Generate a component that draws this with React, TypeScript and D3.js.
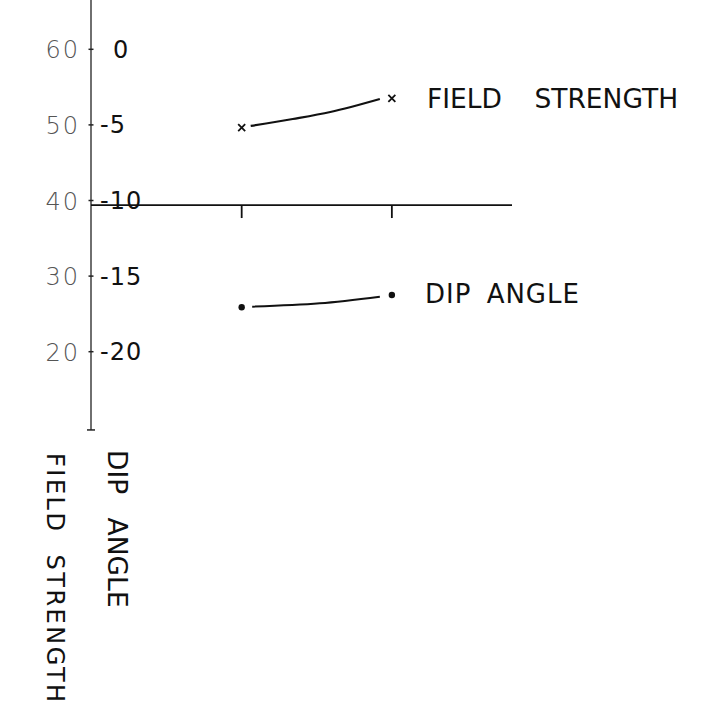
import React from 'react';
import * as d3 from 'd3';

// left scale (field strength) and right-of-axis scale (dip angle)
const fieldTicks = [60, 50, 40, 30, 20];
const dipTicks = [0, -5, -10, -15, -20];

// stations along the profile
const stations = [1, 2];

// plotted points
const fieldStrength = [49.63, 53.52];
const dipAngle = [-17.06, -16.25];

// hand-drawn connecting curves
const fieldCurveX = [1.06, 1.34, 1.59, 1.92];
const fieldCurve = [49.86, 50.78, 51.71, 53.43];
const dipCurveX = [1.07, 1.52, 1.92];
const dipCurve = [-17.02, -16.8, -16.36];

const profileLevel = 39.4; // field value where the station line sits
const axisBottom = 9.65;
const profileEnd = 2.8;

const W = 710, H = 712;
const font = '"DejaVu Sans", sans-serif';

export default function App() {
  const x = d3.scaleLinear().domain([0, profileEnd]).range([91.5, 512]);
  const yField = d3.scaleLinear().domain([20, 60]).range([351.7, 49.3]);
  const yDip = d3.scaleLinear().domain([-20, 0]).range([351.7, 49.3]);
  const axisX = x(0) - 0.5;

  const fieldLine = d3.line<number>()
    .x((d, i) => x(fieldCurveX[i]))
    .y(d => yField(d))
    .curve(d3.curveMonotoneX);
  const dipLine = d3.line<number>()
    .x((d, i) => x(dipCurveX[i]))
    .y(d => yDip(d))
    .curve(d3.curveMonotoneX);

  const baseY = yField(profileLevel);

  return (
    <svg width={W} height={H} style={{position: 'absolute', left: 0, top: 0, background: '#fff'}}>
      <rect width={W} height={H} fill="#fff" />
      {/* vertical axis */}
      <line x1={axisX} x2={axisX} y1={0} y2={yField(axisBottom)} stroke="#222" strokeWidth={1.3} />
      <line x1={axisX - 4} x2={axisX + 4} y1={yField(axisBottom)} y2={yField(axisBottom)} stroke="#222" strokeWidth={1.5} />
      {fieldTicks.map(t => (
        <g key={'f' + t}>
          <line x1={axisX - 2.5} x2={axisX + 2.5} y1={yField(t)} y2={yField(t)} stroke="#222" strokeWidth={1.5} />
          <text x={axisX - 11} y={yField(t) + 9} textAnchor="end" fontFamily={font} fontSize={24}
            fontWeight={200} fill="#555" letterSpacing={2}>{t}</text>
        </g>
      ))}
      {dipTicks.map(t => (
        <text key={'d' + t} x={t === 0 ? axisX + 22 : axisX + 9} y={yDip(t) + 8.5} fontFamily={font}
          fontSize={24} fill="#111" letterSpacing={1}>{t === 0 ? '0' : '-' + Math.abs(t)}</text>
      ))}

      {/* station line */}
      <line x1={axisX} x2={x(profileEnd)} y1={baseY} y2={baseY} stroke="#111" strokeWidth={1.8} />
      {stations.map(s => (
        <line key={'s' + s} x1={x(s)} x2={x(s)} y1={baseY} y2={baseY + 13} stroke="#111" strokeWidth={1.8} />
      ))}

      {/* field strength */}
      <path d={fieldLine(fieldCurve) || ''} fill="none" stroke="#111" strokeWidth={2.2} />
      {stations.map((s, i) => {
        const cx = x(s), cy = yField(fieldStrength[i]);
        return (
          <path key={'fx' + s} d={`M${cx - 3.5},${cy - 3.5}L${cx + 3.5},${cy + 3.5}M${cx + 3.5},${cy - 3.5}L${cx - 3.5},${cy + 3.5}`}
            stroke="#111" strokeWidth={1.8} />
        );
      })}
      <text x={427} y={yField(fieldStrength[1]) + 10} fontFamily={font} fontSize={26.5} fill="#111" wordSpacing={24}>
        FIELD STRENGTH
      </text>

      {/* dip angle */}
      <path d={dipLine(dipCurve) || ''} fill="none" stroke="#111" strokeWidth={2} />
      {stations.map((s, i) => (
        <circle key={'dp' + s} cx={x(s)} cy={yDip(dipAngle[i])} r={3.2} fill="#111" />
      ))}
      <text x={425} y={yDip(dipAngle[1]) + 7.5} fontFamily={font} fontSize={26} fill="#111" letterSpacing={1} wordSpacing={6}>
        DIP ANGLE
      </text>

      {/* rotated axis titles */}
      <text transform="translate(47,453) rotate(90)" fontFamily={font} fontSize={24} fill="#111"
        letterSpacing={2.5} wordSpacing={11}>
        FIELD STRENGTH
      </text>
      <text transform="translate(108,450) rotate(90)" fontFamily={font} fontSize={26.5} fill="#111" wordSpacing={15}>
        DIP ANGLE
      </text>
    </svg>
  );
}
